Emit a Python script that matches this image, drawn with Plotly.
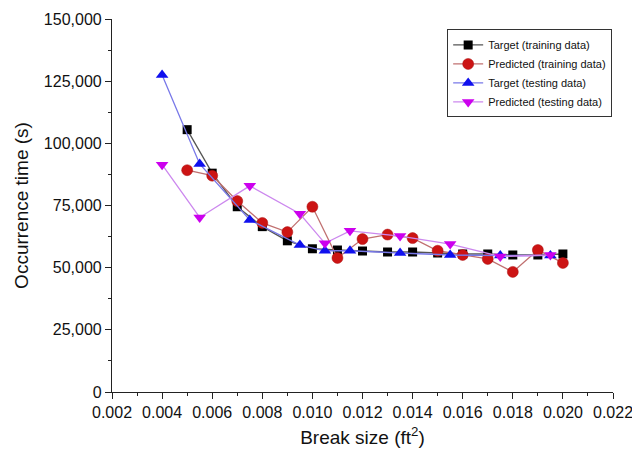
import plotly.graph_objects as go

# Target (training data)
x_train = [0.005, 0.006, 0.007, 0.008, 0.009, 0.010, 0.011, 0.012, 0.013, 0.014,
           0.015, 0.016, 0.017, 0.018, 0.019, 0.020]
y_target_train = [105500, 88000, 74500, 66500, 60800, 57600, 57100, 56700, 56300, 56300,
                  55900, 55500, 55500, 55100, 55100, 55500]
# Predicted (training data)
y_pred_train = [89200, 87000, 76800, 68000, 64300, 74500, 53900, 61500, 63300, 61900,
                56800, 55100, 53500, 48300, 57100, 51900]

# Target / Predicted (testing data)
x_test = [0.004, 0.0055, 0.0075, 0.0095, 0.0105, 0.0115, 0.0135, 0.0155, 0.0175, 0.0195]
y_target_test = [127500, 91700, 69200, 59100, 56800, 56800, 55900, 55100, 54900, 54900]
y_pred_test = [91400, 70200, 82900, 71700, 59800, 64800, 62700, 59500, 54500, 55100]

FONT = "Arial, 'Liberation Sans', Helvetica, sans-serif"

fig = go.Figure()
fig.add_trace(go.Scatter(
    x=x_train, y=y_target_train, name="Target (training data)", mode="lines+markers",
    line=dict(color="#555555", width=1.3),
    marker=dict(symbol="square", size=9, color="#000000")))
fig.add_trace(go.Scatter(
    x=x_train, y=y_pred_train, name="Predicted (training data)", mode="lines+markers",
    line=dict(color="#c07070", width=1.3),
    marker=dict(symbol="circle", size=11, color="#cc1414", line=dict(color="#aa1010", width=0.5))))
fig.add_trace(go.Scatter(
    x=x_test, y=y_target_test, name="Target (testing data)", mode="lines+markers",
    line=dict(color="#7878e8", width=1.3),
    marker=dict(symbol="triangle-up", size=11, color="#1010ee")))
fig.add_trace(go.Scatter(
    x=x_test, y=y_pred_test, name="Predicted (testing data)", mode="lines+markers",
    line=dict(color="#cc88ee", width=1.3),
    marker=dict(symbol="triangle-down", size=11, color="#cc00ee")))

# the page body adds an 8px offset, so the figure is sized to fit the 640x450 window
fig.update_layout(
    width=632, height=442,
    margin=dict(l=104, r=27, t=11, b=58),
    paper_bgcolor="white", plot_bgcolor="white",
    font=dict(family=FONT, color="#111111"),
    showlegend=True,
    legend=dict(
        x=0.669, y=0.972, xanchor="left", yanchor="top",
        bgcolor="white", bordercolor="#333333", borderwidth=1,
        font=dict(size=11, family=FONT, color="#111111"),
        tracegroupgap=0),
)
fig.update_xaxes(
    range=[0.002, 0.022], dtick=0.002, tick0=0.002, tickformat=".3f", automargin=False,
    showgrid=False, zeroline=False, showline=True, linecolor="#222222", linewidth=1.2,
    ticks="outside", ticklen=6, tickcolor="#222222", tickfont=dict(size=16, family=FONT),
    minor=dict(ticks="outside", dtick=0.001, ticklen=3, tickcolor="#222222"),
    title=dict(text="Break size (ft<sup>2</sup>)", font=dict(size=19, family=FONT), standoff=10),
)
fig.update_yaxes(
    range=[0, 150000], dtick=25000, tickformat=",d", automargin=False,
    showgrid=False, zeroline=False, showline=True, linecolor="#222222", linewidth=1.2,
    ticks="outside", ticklen=6, tickcolor="#222222", tickfont=dict(size=16, family=FONT),
    minor=dict(ticks="outside", dtick=12500, ticklen=3, tickcolor="#222222"),
    title=dict(text="Occurrence time (s)", font=dict(size=19, family=FONT), standoff=10),
)

fig.write_html("out.html")
